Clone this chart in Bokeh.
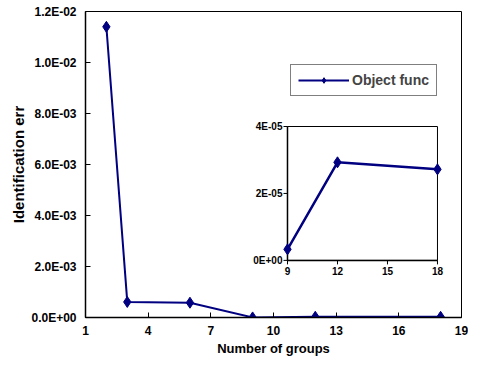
from bokeh.plotting import figure
from bokeh.models import Range1d, FixedTicker, Legend, LegendItem
from bokeh.core.properties import value
from bokeh.embed import file_html
from bokeh.resources import INLINE
import math

# ---- data ----
groups = [2, 3, 6, 9, 12, 18]
errors = [1.14e-2, 6.1e-4, 5.8e-4, 3.3e-6, 2.93e-5, 2.72e-5]

inset_groups = [9, 12, 18]
inset_errors = [3.3e-6, 2.93e-5, 2.72e-5]

x_ticks = [1, 4, 7, 10, 13, 16, 19]
y_ticks = [0, 0.002, 0.004, 0.006, 0.008, 0.01, 0.012]
y_tick_labels = ["0.0E+00", "2.0E-03", "4.0E-03", "6.0E-03", "8.0E-03", "1.0E-02", "1.2E-02"]

inset_x_ticks = [9, 12, 15, 18]
inset_x_tick_labels = ["9", "12", "15", "18"]
inset_y_ticks = [0, 2e-5, 4e-5]
inset_y_tick_labels = ["0E+00", "2E-05", "4E-05"]

series_name = "Object func"
x_title = "Number of groups"
y_title = "Identification err"

# ---- styling ----
NAVY = "#000080"
FONT = "Liberation Sans"

p = figure(width=468, height=358, output_backend="svg", toolbar_location=None,
           x_range=Range1d(1, 19), y_range=Range1d(0, 0.012),
           min_border_left=85, min_border_right=7, min_border_top=11, min_border_bottom=41)
p.background_fill_color = "white"
p.border_fill_color = "white"
p.outline_line_color = "black"
p.outline_line_width = 1
p.xgrid.visible = False
p.ygrid.visible = False

p.xaxis.ticker = FixedTicker(ticks=x_ticks)
p.yaxis.ticker = FixedTicker(ticks=y_ticks)
p.yaxis.major_label_overrides = {t: l for t, l in zip(y_ticks, y_tick_labels)}
for ax in (p.xaxis, p.yaxis):
    ax.major_tick_in = 5
    ax.major_tick_out = 0
    ax.minor_tick_line_color = None
    ax.axis_line_width = 1.5
    ax.axis_line_color = "black"
    ax.major_tick_line_color = "black"
    ax.major_label_text_font = FONT
    ax.major_label_text_font_style = "bold"
    ax.major_label_text_font_size = "12px"
    ax.major_label_text_color = "black"
    ax.axis_label_text_font = FONT
    ax.axis_label_text_font_style = "bold"
    ax.axis_label_text_color = "black"
p.xaxis.axis_label_text_font_size = "13px"
p.yaxis.axis_label_text_font_size = "15px"
p.xaxis.major_label_standoff = 8
p.yaxis.major_label_standoff = 9
p.xaxis.axis_label = x_title
p.yaxis.axis_label = y_title
p.xaxis.axis_label_standoff = 3
p.yaxis.axis_label_standoff = 1

ln = p.line(groups, errors, line_color=NAVY, line_width=2)
mk = p.scatter(groups, errors, marker="diamond", size=11, fill_color=NAVY, line_color=NAVY)

legend = Legend(items=[LegendItem(label=series_name, renderers=[ln, mk])])
legend.location = (205, 221)
legend.padding = 7
legend.margin = 0
legend.glyph_width = 51
legend.glyph_height = 14
legend.label_height = 14
legend.label_standoff = 3
legend.label_text_font = FONT
legend.label_text_font_style = "bold"
legend.label_text_font_size = "14px"
legend.border_line_color = "black"
legend.border_line_width = 1
legend.background_fill_alpha = 1
p.add_layout(legend, "center")

# ---- inset via sub-coordinates ----
sub = p.subplot(
    x_source=Range1d(inset_x_ticks[0], inset_x_ticks[-1]),
    y_source=Range1d(inset_y_ticks[0], inset_y_ticks[-1]),
    x_target=Range1d(10.67, 17.85),
    y_target=Range1d(0.00224, 0.00749),
)
sub.quad(left=[inset_x_ticks[0]], right=[inset_x_ticks[-1]],
         bottom=[inset_y_ticks[0]], top=[inset_y_ticks[-1]],
         fill_color="white", line_color="black", line_width=1)
sub.segment(x0=[inset_x_ticks[0]], y0=[inset_y_ticks[0]], x1=[inset_x_ticks[0]], y1=[inset_y_ticks[-1]],
            line_color="black", line_width=1.5)
sub.segment(x0=[inset_x_ticks[0]], y0=[inset_y_ticks[0]], x1=[inset_x_ticks[-1]], y1=[inset_y_ticks[0]],
            line_color="black", line_width=1.5)
sub.ray(x=[inset_x_ticks[0]] * len(inset_y_ticks), y=inset_y_ticks, length=4, length_units="screen",
        angle=math.pi, line_color="black", line_width=1)
sub.ray(x=inset_x_ticks, y=[inset_y_ticks[0]] * len(inset_x_ticks), length=4, length_units="screen",
        angle=-math.pi / 2, line_color="black", line_width=1)
sub.text(x=[inset_x_ticks[0]] * len(inset_y_ticks), y=inset_y_ticks, text=inset_y_tick_labels,
         x_offset=-5, text_align="right", text_baseline="middle",
         text_font=value(FONT), text_font_style="bold", text_font_size="10px", text_color="black")
sub.text(x=inset_x_ticks, y=[inset_y_ticks[0]] * len(inset_x_ticks), text=inset_x_tick_labels,
         y_offset=7, text_align="center", text_baseline="top",
         text_font=value(FONT), text_font_style="bold", text_font_size="10px", text_color="black")
sub.line(inset_groups, inset_errors, line_color=NAVY, line_width=2.5)
sub.scatter(inset_groups, inset_errors, marker="diamond", size=11, fill_color=NAVY, line_color=NAVY)

open("out.html", "w").write(file_html(p, INLINE))
